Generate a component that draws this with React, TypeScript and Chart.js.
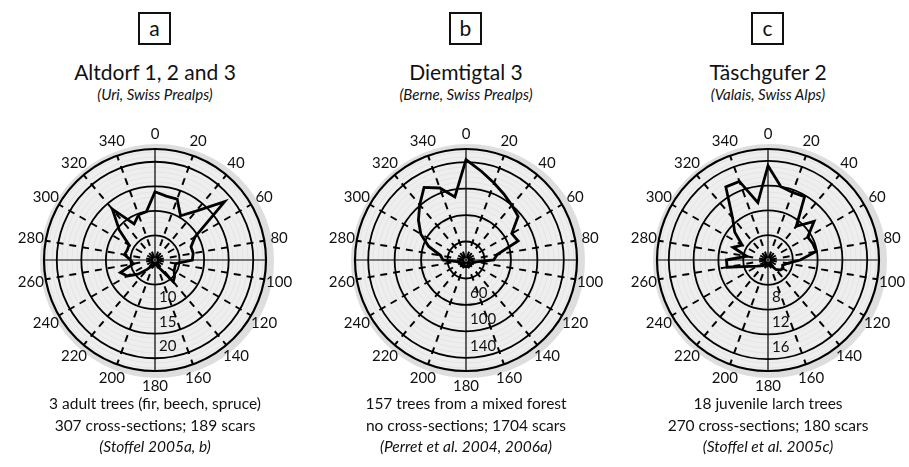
import React, { useEffect, useRef } from 'react';
import { Chart, registerables } from 'chart.js';

Chart.register(...registerables);

// ---- data ----
const directions = [0, 10, 20, 30, 40, 50, 60, 70, 80, 90, 100, 110, 120, 130, 140, 150, 160, 170,
  180, 190, 200, 210, 220, 230, 240, 250, 260, 270, 280, 290, 300, 310, 320, 330, 340, 350];

const altdorfScars = [13.9, 13.2, 13.2, 10.4, 13.0, 18.5, 9.4, 7.8, 7.9, 7.6, 4.3, 4.3, 4.5, 5.2, 5.8, 2.0, 1.2, 0.8,
  0.8, 1.0, 1.5, 1.5, 2.5, 4.5, 6.5, 7.5, 4.5, 5.0, 6.3, 6.0, 6.1, 9.5, 13.5, 8.5, 9.8, 10.0];
const diemtigtalScars = [144, 128, 116, 107, 100, 95, 72, 76, 40, 34, 8, 4, 2, 2, 2, 2, 2, 2,
  2, 2, 2, 2, 2, 2, 2, 3, 6, 27, 31, 52, 71, 86, 101, 119, 108, 89];
const taeschguferScars = [15.2, 12.0, 11.6, 11.8, 7.1, 9.7, 7.4, 7.7, 7.9, 5.2, 3.2, 2.5, 2.8, 2.5, 2.0, 1.0, 1.0, 0.8,
  0.8, 1.0, 1.0, 1.0, 1.0, 1.5, 2.0, 3.0, 6.7, 6.7, 3.5, 6.0, 4.8, 7.0, 8.9, 13.6, 13.5, 9.4];

const altdorfRings = [5, 10, 15, 20];
const altdorfRingLabels = ['', '10', '15', '20'];
const diemtigtalRings = [20, 60, 100, 140];
const diemtigtalRingLabels = ['', '60', '100', '140'];
const taeschguferRings = [4, 8, 12, 16];
const taeschguferRingLabels = ['', '8', '12', '16'];

const panelLetters = ['a', 'b', 'c'];
const panelTitles = ['Altdorf 1, 2 and 3', 'Diemtigtal 3', 'Täschgufer 2'];
const panelRegions = ['(Uri, Swiss Prealps)', '(Berne, Swiss Prealps)', '(Valais, Swiss Alps)'];
const captionLine1 = ['3 adult trees (fir, beech, spruce)', '157 trees from a mixed forest', '18 juvenile larch trees'];
const captionLine2 = ['307 cross-sections; 189 scars', 'no cross-sections; 1704 scars', '270 cross-sections; 180 scars'];
const captionLine3 = ['(Stoffel 2005a, b)', '(Perret et al. 2004, 2006a)', '(Stoffel et al. 2005c)'];

// ---- layout ----
const FONT = 'Lato, "Open Sans", sans-serif';
const panelCenters = [155, 466, 768];
const CANVAS = 300;
const PAD = 39;

type PolarSpec = {
  values: number[];
  rings: number[];
  ringLabels: string[];
  min: number;
  max: number;
};

const specs: PolarSpec[] = [
  { values: altdorfScars, rings: altdorfRings, ringLabels: altdorfRingLabels, min: 0, max: 22.6 },
  { values: diemtigtalScars, rings: diemtigtalRings, ringLabels: diemtigtalRingLabels, min: -8, max: 160 },
  { values: taeschguferScars, rings: taeschguferRings, ringLabels: taeschguferRingLabels, min: 0, max: 17.9 },
];

const isAxis = (i: number) => directions[i] % 90 === 0;
const isDashed = (i: number) => directions[i] % 20 === 0 && !isAxis(i);

function PolarChart({ spec }: { spec: PolarSpec }) {
  const ref = useRef<HTMLCanvasElement | null>(null);
  useEffect(() => {
    if (!ref.current) return;
    const discPlugin = {
      id: 'disc',
      beforeDraw(chart: any) {
        const s = chart.scales.r;
        const ctx = chart.ctx;
        ctx.save();
        ctx.beginPath();
        ctx.arc(s.xCenter + 2, s.yCenter + 1, s.drawingArea + 6, 0, Math.PI * 2);
        ctx.fillStyle = '#dedede';
        ctx.fill();
        ctx.beginPath();
        ctx.arc(s.xCenter, s.yCenter, s.drawingArea + 1, 0, Math.PI * 2);
        ctx.fillStyle = '#eeeeee';
        ctx.fill();
        ctx.lineWidth = 1;
        for (let r = 8; r < s.drawingArea; r += 5) {
          ctx.beginPath();
          ctx.arc(s.xCenter, s.yCenter, r, 0, Math.PI * 2);
          ctx.strokeStyle = 'rgba(0,0,0,0.045)';
          ctx.stroke();
        }
        ctx.restore();
      },
    };
    // dashed direction spokes every 20 degrees, drawn along the scale's own point positions
    const spokePlugin = {
      id: 'spokes',
      beforeDatasetsDraw(chart: any) {
        const s = chart.scales.r;
        const ctx = chart.ctx;
        ctx.save();
        ctx.strokeStyle = '#000';
        ctx.lineWidth = 2;
        ctx.lineCap = 'butt';
        directions.forEach((_, i) => {
          if (!isDashed(i)) return;
          const p = s.getPointPosition(i, s.drawingArea);
          const dx = p.x - s.xCenter;
          const dy = p.y - s.yCenter;
          const len = Math.sqrt(dx * dx + dy * dy);
          for (let t = 2; t < len; t += 13) {
            const t2 = Math.min(t + 7, len);
            ctx.beginPath();
            ctx.moveTo(s.xCenter + (dx * t) / len, s.yCenter + (dy * t) / len);
            ctx.lineTo(s.xCenter + (dx * t2) / len, s.yCenter + (dy * t2) / len);
            ctx.stroke();
          }
        });
        ctx.restore();
      },
    };
    const labelPlugin = {
      id: 'labels',
      afterDraw(chart: any) {
        const s = chart.scales.r;
        const ctx = chart.ctx;
        ctx.save();
        ctx.font = '15px ' + FONT;
        ctx.fillStyle = '#111';
        ctx.textAlign = 'center';
        ctx.textBaseline = 'middle';
        const labels = chart.data.labels as string[];
        labels.forEach((lab, i) => {
          if (!lab) return;
          const p = s.getPointPosition(i, s.drawingArea + 15);
          ctx.fillText(lab, p.x, p.y);
        });
        ctx.textAlign = 'left';
        spec.rings.forEach((v, k) => {
          const lab = spec.ringLabels[k];
          if (!lab) return;
          const d = s.getDistanceFromCenterForValue(v);
          ctx.fillText(lab, s.xCenter + 4, s.yCenter + d - 12);
        });
        ctx.restore();
      },
    };
    const chart = new Chart(ref.current, {
      type: 'radar',
      data: {
        labels: directions.map((d) => (d % 20 === 0 ? String(d) : '')),
        datasets: [
          {
            data: spec.values,
            borderColor: '#000',
            borderWidth: 2.8,
            borderJoinStyle: 'miter',
            pointRadius: 0,
            fill: false,
            tension: 0,
          } as any,
        ],
      },
      options: {
        animation: false,
        responsive: false,
        layout: { padding: PAD },
        plugins: { legend: { display: false }, tooltip: { enabled: false } },
        scales: {
          r: {
            min: spec.min,
            max: spec.max,
            startAngle: 0,
            afterBuildTicks: (scale: any) => {
              scale.ticks = [spec.min, ...spec.rings, spec.max].map((v) => ({ value: v }));
            },
            ticks: { display: false },
            pointLabels: { display: false },
            grid: {
              circular: true,
              color: (ctx: any) => (ctx.index === 0 ? 'rgba(0,0,0,0)' : '#000'),
              lineWidth: (ctx: any) => (ctx.tick && ctx.tick.value === spec.max ? 2.2 : 1.8),
            },
            angleLines: {
              display: true,
              color: (ctx: any) => (isAxis(ctx.index) ? '#000' : 'rgba(0,0,0,0)'),
              lineWidth: (ctx: any) => (isAxis(ctx.index) ? 1.2 : 0),
            },
          } as any,
        },
      },
      plugins: [discPlugin, spokePlugin, labelPlugin],
    });
    return () => chart.destroy();
  }, [spec]);
  return <canvas ref={ref} width={CANVAS} height={CANVAS} style={{ display: 'block', width: CANVAS, height: CANVAS }} />;
}

export default function App() {
  return (
    <div style={{ position: 'absolute', left: 0, top: 0, width: 909, height: 467, background: '#fff', fontFamily: FONT, color: '#111', overflow: 'hidden' }}>
      {panelCenters.map((cx, i) => (
        <React.Fragment key={i}>
          <div style={{ position: 'absolute', left: cx - 17, top: 12, width: 33, height: 33, boxSizing: 'border-box', border: '2px solid #111', textAlign: 'center', lineHeight: '27px', fontSize: 21 }}>
            {panelLetters[i]}
          </div>
          <div style={{ position: 'absolute', left: cx - 150, width: 300, top: 59, textAlign: 'center', fontSize: 21, lineHeight: '26px' }}>
            {panelTitles[i]}
          </div>
          <div style={{ position: 'absolute', left: cx - 150, width: 300, top: 85, textAlign: 'center', fontSize: 15, lineHeight: '18px', fontStyle: 'italic' }}>
            {panelRegions[i]}
          </div>
          <div style={{ position: 'absolute', left: cx - CANVAS / 2, top: 260 - CANVAS / 2 }}>
            <PolarChart spec={specs[i]} />
          </div>
          <div style={{ position: 'absolute', left: cx - 150, width: 300, top: 393, textAlign: 'center', fontSize: 15.5, lineHeight: '21.5px' }}>
            <div>{captionLine1[i]}</div>
            <div>{captionLine2[i]}</div>
            <div style={{ fontStyle: 'italic' }}>{captionLine3[i]}</div>
          </div>
        </React.Fragment>
      ))}
    </div>
  );
}
